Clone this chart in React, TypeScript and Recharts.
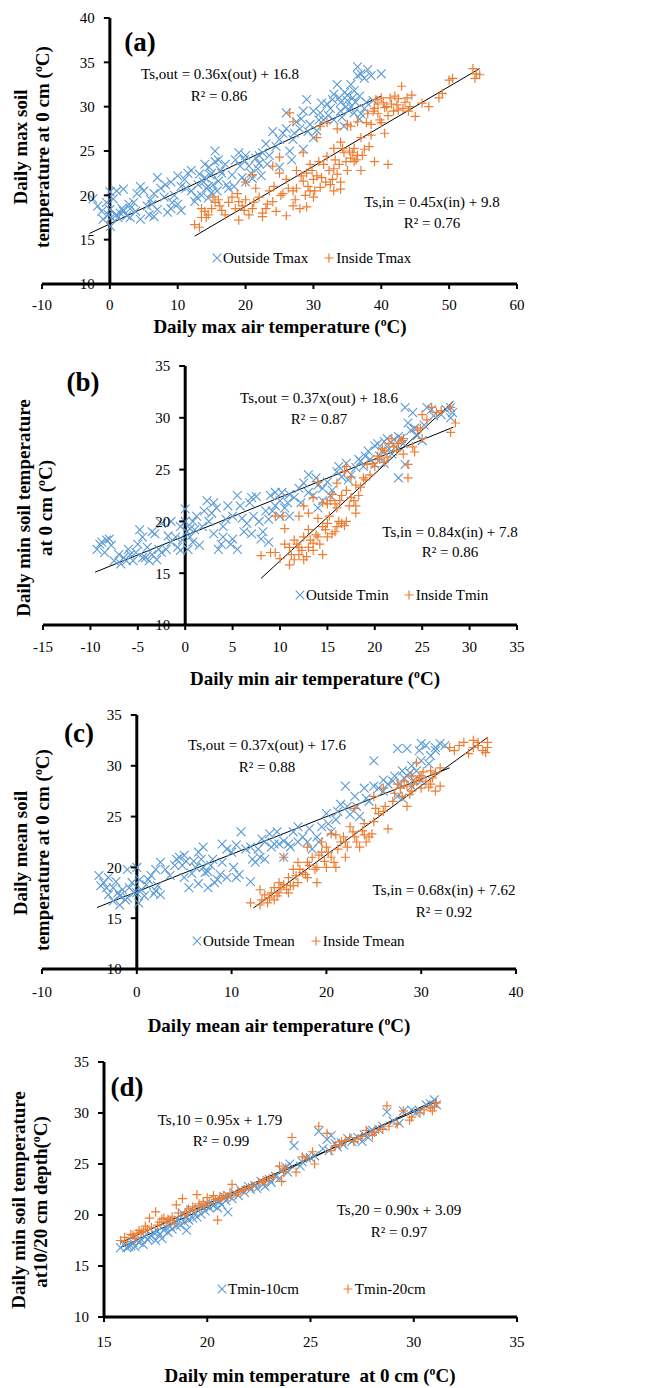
import React from 'react';
import { ScatterChart, Scatter, XAxis, YAxis, ReferenceLine, Legend } from 'recharts';

const BLUE = '#5B9BD5';
const ORANGE = '#ED7D31';
const FONT = '"Liberation Serif", "Times New Roman", serif';

type Pt = [number, number];

// (a) daily max: soil vs air
const outsideTmax: Pt[] = [
  [-2.5, 19.6], [-1.8, 18.8], [-1, 17.3], [-0.5, 19.2], [0, 20.4], [0, 18.4], [0.2, 17.5], [0.1, 16.5], [-1.2, 18.2],
  [1, 20.5], [1.5, 18], [2, 20.7], [2.5, 17.7], [3, 18.5], [3.5, 19.2], [4, 20.2], [4.5, 21], [4.5, 17.3], [5, 20.5],
  [5.5, 18.8], [2, 18.2], [1, 17.8], [3, 17.5], [6, 19.5], [6.5, 20.2], [6.5, 17.6], [7, 22], [7, 18.4], [7.5, 20.8],
  [8, 19.8], [8.5, 18.1], [9, 21.5], [9, 18.5], [9.5, 20], [10, 22.2], [10, 19], [10.5, 18.3], [10.5, 21], [11, 21.8],
  [11.5, 22.5], [12, 20.5], [12, 22.8], [12.5, 19.3], [13, 21.2], [13.5, 20], [14, 22], [14, 23.5], [14.5, 21],
  [14.5, 19.7], [15, 22.5], [15, 20.3], [15.5, 25], [15.5, 23.8], [16, 21.6], [16, 24], [16.5, 22.5], [17, 23.5],
  [17.5, 20.8], [18, 22.3], [18.5, 24], [19, 24.8], [19.5, 22], [20, 24.5], [20, 21.5], [20.5, 23.3], [21, 21.9],
  [21.5, 24.2], [22, 23.6], [22, 24.5], [23, 25.8], [23.5, 24.5], [24, 27.2], [25, 26.3], [25, 23.2], [26, 29.3],
  [26, 27.5], [26.5, 25], [27, 26.3], [27.5, 28.3], [28, 27.5], [28.5, 29.5], [28.5, 25.2], [29, 30.8], [29.5, 28],
  [30, 29.5], [30, 26.5], [30.5, 27.3], [31, 29.3], [31.5, 28.5], [32, 30.3], [32.5, 29.8], [33, 31.4], [33, 28.5],
  [33.5, 32.5], [34, 30.5], [34, 29.5], [34.5, 27.8], [35, 30.7], [35, 31.3], [35.5, 30], [35.5, 32.5], [36, 29.3],
  [36, 31.8], [36.5, 33.5], [36.5, 34.5], [37, 33.7], [37, 29.2], [37.5, 33.2], [38, 34.2], [38.5, 33.5], [40, 33.7],
  [37.5, 29.8], [36.8, 28.6], [13.8, 21.5], [14.2, 20.8], [14.8, 22.3], [15.2, 21.2], [15.8, 20.5], [14.6, 23.2],
  [13.2, 22.4], [16.3, 22.8], [17.2, 21.2], [18.3, 21], [19.2, 23.3], [19.8, 24], [20.8, 22.5], [21.8, 23], [22.3, 22.2],
  [24.5, 25.5], [25.5, 27], [26.8, 24], [27.2, 27], [28.2, 28.6], [29.2, 27.2], [30.8, 28.5], [31.2, 30.4], [32.2, 29],
  [32.8, 30.8], [33.8, 31], [34.2, 28.8], [34.8, 30], [35.2, 29.6], [35.8, 31], [36.2, 30.5], [36.8, 31.2], [34.6, 31.6],
  [1.2, 17.5], [1.8, 18.5], [2.8, 19], [3.8, 18.2], [5.8, 17.8], [6.2, 19], [8.2, 21.2], [9.2, 19.2], [11.2, 20.8],
  [12.8, 19.8], [0.5, 19.6], [-0.2, 17.8], [37.8, 30.5], [38.8, 30.7], [22.5, 24.8], [23.2, 23.5],
];
const insideTmax: Pt[] = [
  [12.5, 16.7], [13.2, 16.4], [13.5, 17.5], [13.5, 18.5], [14, 18.2], [14.5, 17.8], [15, 18.5], [15.5, 19.2], [16, 19.5],
  [16.5, 18.3], [17, 17.8], [17.5, 19.2], [18, 19.8], [18.5, 18.5], [19, 17.2], [19, 19.3], [19.5, 18.8], [20, 21.5],
  [20, 19.5], [20.5, 17.8], [21, 18.5], [21, 22.3], [21.5, 20.8], [22, 19.8], [22.5, 18], [22.5, 17.6], [23, 18.5],
  [23.5, 20.5], [24, 19.3], [24, 23.3], [24.5, 18.2], [25, 22.5], [25, 24.3], [25.5, 20.2], [26, 17.7], [26, 21.8],
  [26.5, 29.3], [27, 20.5], [27, 18.8], [27, 28.3], [27.5, 22.8], [27.5, 20.8], [28, 18.5], [28.5, 21.6], [28.5, 24.8],
  [29, 22.5], [29, 18.7], [29.5, 20.5], [29.5, 23.5], [30, 21.8], [30, 19.8], [30.5, 22.2], [30.5, 26.5], [31, 20.9],
  [31.5, 23.5], [32, 24.4], [32, 28.2], [32.5, 21.2], [33, 23], [33, 20.5], [33, 25.3], [33.5, 22.4], [34, 26],
  [34, 21.5], [34, 20.7], [34.5, 24.8], [35, 22.8], [35, 28], [35.5, 24.2], [36, 25.3], [36, 23.8], [36.5, 28.3],
  [36.5, 24.5], [37, 22.8], [37, 26.5], [37.5, 25.2], [38, 29.2], [38.5, 28], [39, 29.8], [39, 23.8], [39.5, 30.3],
  [40, 28.2], [40, 31], [40.5, 27], [41, 29], [41, 23.5], [41.5, 30.3], [42, 31.2], [42.5, 29.6], [43, 32.3],
  [43.5, 30.5], [44, 29.5], [44.5, 31.3], [45, 28.9], [46, 30.4], [49, 31.5], [50, 33], [50.5, 33.2], [53.5, 34.3],
  [54, 33.7], [54.5, 33.6], [42.5, 30.9], [39.5, 29.2], [38.5, 26.8], [40.5, 29.9], [14.2, 17.5], [15.2, 19.8],
  [16.2, 18.8], [18.8, 20.2], [19.8, 18.3], [21.2, 19.2], [23.2, 19], [24.2, 21], [25.2, 20], [26.3, 20.8], [27.3, 19.5],
  [28.2, 22.2], [28.8, 20], [29.2, 21], [29.8, 22.8], [30.2, 20.5], [30.8, 23.8], [31.2, 22], [31.8, 21.5], [32.3, 22.8],
  [32.8, 21.8], [33.2, 24], [33.8, 23.5], [34.3, 25.3], [34.8, 23.8], [35.3, 25], [35.8, 24.8], [36.3, 24], [37.2, 24.5],
  [38.2, 25.5], [38.8, 29.5], [39.2, 30.8], [39.8, 28.5], [40.3, 30.5], [40.8, 30], [41.3, 31], [41.8, 29.5],
  [42.3, 30.2], [43.2, 29.8], [43.8, 31], [44.2, 30], [47, 30], [48.5, 31], [53.8, 33.2], [31, 27.8], [33.5, 27.5],
  [35.5, 27.8], [37.8, 28.2],
];
const fitOutA: Pt[] = [[-3, 15.7], [40, 31.2]];
const fitInA: Pt[] = [[12.5, 15.4], [54.5, 34.3]];

// (b) daily min
const outsideTmin: Pt[] = [
  [-9.3, 17.3], [-8.8, 18], [-8.3, 18.2], [-7.8, 17.7], [-7.5, 16.2], [-8.5, 17], [-6.5, 16.5], [-6, 17.3], [-5.5, 16.2],
  [-5, 17.8], [-4.8, 19.2], [-4.5, 18.5], [-4.2, 16.5], [-4, 17.5], [-3.5, 16.8], [-3.2, 18.8], [-3, 16.3], [-2.8, 17.3],
  [-6.8, 15.9], [-5.8, 16.8], [-2.5, 19.8], [-2, 17.3], [-1.8, 18.6], [-1.5, 20], [-1, 18.5], [-0.8, 17.5], [-0.5, 19.5],
  [0, 21.2], [0, 20], [0.2, 19], [0.3, 17.3], [0.5, 18.5], [-0.3, 18.2], [0.8, 20], [1, 19.2], [1.5, 17.7], [2, 21],
  [2.3, 22], [2.5, 20], [3, 18.8], [3.3, 21.3], [3.5, 17.3], [4, 19.5], [4, 18.5], [4.5, 21.5], [5, 20.5], [5, 18.3],
  [5.5, 22.5], [5.5, 17.3], [4.8, 17.8], [6, 20.3], [6.5, 19.8], [6.8, 21.8], [7, 18.8], [7.5, 22.4], [7.2, 20.5],
  [8.2, 19], [8.5, 21], [8.8, 20.2], [9, 22.5], [9.5, 22.8], [9.5, 21.5], [10, 20.5], [10, 22], [10.5, 21.3], [8.8, 18],
  [11, 22.6], [11, 20.5], [12, 23.2], [12.5, 23.7], [13, 24.5], [13.5, 22.5], [14, 23.5], [14.5, 22], [15, 23.8],
  [15.5, 23], [16, 24.8], [16.5, 24.3], [17, 25.6], [17.5, 24.5], [14, 21.3], [18, 25.2], [18.5, 25.8], [19, 26.3],
  [19.5, 26], [20, 27.3], [20.5, 26.3], [21, 27.7], [21.5, 27], [22, 27.9], [22.5, 28.2], [22.5, 24.2], [23, 27.5],
  [23.2, 25.5], [23.2, 31], [23.5, 29.5], [24, 30.5], [24.5, 28.3], [25, 27.8], [25.5, 31], [26, 30.8], [28, 30],
  [28, 31], [28.2, 30.5], [27, 30.3], [21, 25.6], [20, 25.5], [-9, 17.8], [-8, 18.3], [-7, 16.8], [-6.2, 16.2],
  [-5.2, 17], [-4.5, 16.5], [-3.8, 16.2], [-3.5, 19], [-2.5, 17], [-1.5, 18], [-0.5, 17.2], [0.5, 19.3], [0.8, 18],
  [1.2, 20.5], [1.8, 19.5], [2.8, 20.8], [3, 21.8], [3.8, 17.8], [4.3, 20.2], [5.8, 21.5], [6.2, 19], [7, 22.3],
  [7.8, 20], [8, 18.3], [9.2, 21], [10.2, 22.8], [10.8, 21.8], [11.5, 22.3], [12.2, 21.8], [13, 22.8], [13.8, 24.2],
  [14.5, 23.2], [15.3, 22.5], [16.2, 25.3], [17.2, 24], [18.3, 26], [18.8, 25.3], [19.3, 26.8], [20.3, 27.5],
  [20.8, 26.8], [21.3, 28], [21.8, 26.5], [22.2, 27.2], [22.8, 28], [23.8, 28.8], [24.2, 29], [25.2, 29.3],
  [26.2, 30.2], [27.5, 30.8],
];
const insideTmin: Pt[] = [
  [8, 16.7], [9, 17], [9.5, 17], [10, 16.4], [9.5, 20.5], [10.3, 20.5], [10.5, 19.3], [10.5, 17.8], [11, 15.8], [11, 17.5],
  [11.5, 16.3], [11.5, 18.2], [12, 16.8], [12, 17.5], [12, 20.5], [12.5, 16.3], [12.5, 18.5], [12.5, 21.5], [13, 17.5],
  [13, 19.2], [13, 20.8], [13.5, 17.2], [13.5, 17.9], [13.5, 22.3], [14, 18.5], [14, 20.3], [14, 23.8], [14.5, 16.8],
  [14.5, 19.5], [14.5, 21.8], [15, 18.5], [15, 21.7], [15, 19.8], [15.5, 18.8], [15.5, 22.6], [16, 19.5], [16, 21.3],
  [16, 23.7], [16.5, 19.8], [16.5, 22.5], [17, 20], [17, 23], [17, 25.3], [17.5, 22.3], [17.5, 24.3], [18, 21.5],
  [18, 23.5], [18, 20.8], [18.5, 23.3], [19, 24], [19.5, 24.5], [20, 25.3], [20.5, 26], [21, 25.7], [21, 26.8],
  [21.5, 27.5], [22, 27.2], [22.5, 27.5], [23, 26.5], [23, 28], [23.5, 25.5], [23.5, 24.2], [24, 27.2], [24.5, 28.8],
  [25, 28], [25, 30.3], [26, 31], [27, 30.7], [28, 28.6], [28.5, 29.5], [28, 31], [26.5, 30.5], [11.2, 16.8],
  [11.8, 17.8], [12.3, 17.2], [12.8, 16.6], [13.2, 18.2], [13.8, 18.7], [14.2, 17.8], [14.8, 19.2], [15.2, 20.5],
  [15.8, 19], [16.2, 20], [16.8, 19.6], [15.3, 22], [15.8, 21.7], [16.3, 22], [16.8, 24.8], [17.3, 21.5], [17.8, 22],
  [18.3, 22.5], [18.8, 24.2], [19.2, 25.5], [19.8, 25.6], [20.3, 26.3], [20.8, 27], [21.3, 26.2], [21.8, 28],
  [22.3, 26.8], [22.8, 27.8], [24.2, 26.7], [24.8, 29], [25.5, 29.8],
];
const fitOutB: Pt[] = [[-9.5, 15.1], [28.3, 29.1]];
const fitInB: Pt[] = [[8, 14.5], [28.3, 31.6]];

// (c) daily mean
const outsideTmean: Pt[] = [
  [-4, 19.2], [-3.5, 18.5], [-3, 19], [-3, 17.3], [-2.5, 16.7], [-2.5, 18], [-2, 17.5], [-1.8, 16.3], [-1.5, 17.8],
  [-1, 19.8], [-1, 17], [-0.5, 18.5], [0, 20], [0, 17.5], [0.2, 16.5], [0.3, 18.8], [0.5, 17.8], [1, 18.3], [1.5, 19.2],
  [2, 17.7], [2, 19.8], [2.5, 20.5], [2.5, 17.3], [3, 19.8], [4, 20.2], [4.5, 21], [5, 19], [5, 21.2], [5.5, 18],
  [6, 20.6], [6.5, 21.5], [6.5, 18.4], [7, 22], [7, 20], [7.5, 19.6], [7.5, 18], [8, 20.8], [8.5, 18.8], [9, 22.3],
  [9, 20.5], [9.5, 19], [10, 21.5], [10.5, 22.2], [10.5, 19], [11, 23.5], [10.8, 19.3], [12, 22], [12.5, 20.5],
  [13, 21], [13.5, 22.5], [13.5, 20.8], [14, 23.3], [14.5, 22.3], [15, 22.3], [15.5, 21], [16, 22.3], [16.5, 23.5],
  [17, 24], [17, 22.5], [18, 22.5], [18.5, 21.8], [19, 23], [12, 18.6], [19.5, 24], [20, 25.3], [20.5, 23.5], [21, 24.7],
  [21.5, 26.2], [22, 28], [22.5, 25.2], [23, 27], [23.5, 25], [24, 27.8], [24.5, 26.5], [25, 28], [25, 30.5], [26, 27.5],
  [26, 28.6], [27, 28.5], [27.5, 31.7], [28, 29.5], [28.5, 31.7], [28.5, 29], [29, 30], [29, 28], [29.5, 29.5],
  [30, 32.2], [30, 30.5], [30.5, 32], [31, 31], [31.5, 31.5], [32, 32.2], [32.5, 32], [27.5, 27], [28, 26.8], [30, 28.5],
  [-3.8, 18.2], [-3.2, 18], [-2.2, 18.6], [-1.8, 17.2], [-1.2, 16.8], [-0.8, 18], [-0.3, 17.5], [0.8, 17.2],
  [1.2, 18.8], [1.8, 17.4], [2.2, 18.2], [3.5, 19.2], [4.2, 20.8], [4.8, 20.2], [5.2, 20.6], [5.8, 19.4], [6.2, 20],
  [6.8, 20.8], [7.2, 19.5], [7.8, 20.2], [8.2, 18.5], [8.8, 19.3], [9.5, 21.8], [10.2, 20], [11.5, 21.8], [12.2, 20.8],
  [12.8, 21.8], [13.2, 22.8], [14.2, 22], [14.8, 23.5], [15.5, 22.6], [16.2, 22], [17.5, 23], [18.2, 23.8], [19.2, 22.5],
  [20.2, 24.3], [21.2, 25.5], [22.2, 26], [23.2, 26], [24.2, 26.8], [25.5, 27.8], [26.5, 28.2], [27.2, 29], [27.8, 28.2],
  [28.2, 28.8], [28.8, 29.3], [29.2, 28.6], [29.8, 31.5], [30.8, 30.2], [31.5, 31.8],
];
const insideTmean: Pt[] = [
  [12, 16.5], [13, 16.3], [13, 17.8], [13.5, 17.3], [14, 17], [14.5, 18], [14.5, 16.8], [15, 17.5], [15, 18.5],
  [15.5, 18.3], [15.5, 21], [16, 19], [16, 17.5], [16.5, 19.8], [16.5, 18.2], [17, 20.5], [17, 18.5], [17.5, 19.5],
  [18, 20.5], [18, 19], [18, 22], [18.5, 21], [19, 20], [19, 18.5], [19.5, 21.5], [19.5, 22.5], [20, 22], [20, 20],
  [20.5, 21], [20.5, 23.3], [21, 23.2], [21, 20], [21.5, 22.5], [22, 22.5], [22, 21], [22.5, 24], [23, 23], [23, 25.8],
  [23.5, 22], [24, 24.3], [24, 23.2], [24.5, 23], [25, 24.5], [25, 27], [25.5, 25.3], [26, 25.5], [26, 27.8],
  [26.5, 23.8], [27, 26.5], [27.5, 28.2], [28, 27], [28.5, 28], [28.5, 26], [29, 29], [29, 27.5], [29.5, 30.3],
  [29.5, 28.5], [30, 29], [30, 27.8], [30.5, 28.5], [31, 29.5], [31, 28.2], [31.5, 27.5], [32, 29.8], [32, 28],
  [33, 31.8], [34, 32], [34.5, 32.3], [35, 31.2], [35.5, 31.8], [36, 32], [36.5, 31.5], [37, 31.8], [37, 32.3],
  [36, 32.3], [31.5, 29.3], [13.2, 16.8], [13.8, 16.5], [14.2, 17.5], [14.8, 17.2], [15.2, 18], [15.8, 17.8],
  [16.2, 18.2], [16.8, 19.2], [17.2, 19.8], [17.8, 19.3], [18.2, 20.2], [18.8, 19.8], [19.2, 21.2], [19.8, 20.6],
  [20.2, 21.5], [20.8, 20.5], [21.2, 21.8], [21.8, 23], [22.2, 22], [22.8, 23.5], [23.2, 22.5], [23.8, 23.6],
  [24.2, 22.5], [24.8, 23.3], [25.2, 25.8], [26.2, 26], [27.2, 27.3], [27.8, 27.8], [28.2, 28.5], [28.8, 27.2],
  [29.2, 28.2], [29.8, 28.8], [30.2, 29.4], [30.8, 27.9], [31.2, 28.8], [33.5, 31.5], [35.5, 32.5], [36.8, 31.3],
];
const fitOutC: Pt[] = [[-4.2, 16.05], [33, 29.8]];
const fitInC: Pt[] = [[12.3, 16], [37, 32.8]];

// (d) min soil at 10/20 cm vs 0 cm
const tmin10: Pt[] = [
  [15.8, 16.8], [16, 17.2], [16.2, 16.9], [16.4, 17.3], [16.6, 17.5], [16.8, 17.6], [17, 17.9], [17.2, 17.8], [17.4, 18.3],
  [17.6, 18.4], [17.8, 17.7], [18, 18.8], [18.2, 18.9], [18.4, 19.3], [18.6, 19.5], [18.8, 20.2], [19, 18.5], [19, 19.8],
  [19.2, 20.5], [19.4, 20.2], [19.6, 20.6], [19.8, 20.8], [20, 21], [20.2, 21.1], [20.4, 21.5], [20.6, 21.3],
  [20.8, 21.8], [21, 20.3], [21, 21.9], [21.3, 22.2], [21.6, 22.5], [22, 22.8], [22.3, 22.9], [22.6, 23.3], [23, 23.5],
  [23.3, 23.8], [23.6, 24.4], [23.8, 24.7], [24, 25], [24.2, 26.8], [24.5, 24.8], [24.8, 25.6], [25.2, 25.8],
  [25.4, 28.2], [25.6, 26.5], [25.8, 27.4], [26, 27.8], [26.2, 27], [26.5, 27.1], [26.8, 27.5], [27, 27.2], [27.3, 27.6],
  [27.6, 27.9], [28, 28.3], [28.3, 28.4], [28.7, 30.1], [29, 29.2], [29.5, 30.2], [29.9, 30.3], [30.3, 30.2],
  [30.8, 30.9], [31, 31.3], [31.1, 30.8], [17.5, 17.5], [18.5, 18.9], [19.5, 19.8], [20.5, 20.7], [16.5, 16.9],
  [22.8, 22.8], [27.8, 27.6], [16.1, 16.8], [16.3, 17], [16.7, 17.3], [16.9, 17.1], [17.1, 17.6], [17.3, 18],
  [17.7, 18.1], [17.9, 18.5], [18.1, 18.3], [18.3, 18.6], [18.7, 19], [18.9, 19.3], [19.1, 19.5], [19.3, 19.7],
  [19.7, 20.1], [19.9, 20.4], [20.1, 20.7], [20.3, 20.9], [20.7, 21], [20.9, 21.4], [21.2, 21.6], [21.5, 21.9],
  [21.8, 22.2], [22.1, 22.5], [22.4, 22.6], [22.7, 23], [23.1, 23.2], [23.5, 23.6], [23.9, 24.2], [24.6, 25.2],
  [25, 25.6], [25.9, 26.3], [26.3, 26.7], [26.6, 26.9], [27.1, 27.4], [27.5, 27.2], [27.9, 28.2], [28.5, 28.7],
  [29.3, 29], [30.1, 30], [30.6, 30.8],
];
const tmin20: Pt[] = [
  [15.8, 17.5], [16, 17.8], [16.3, 18.1], [16.5, 17.7], [16.8, 18.3], [17, 18.9], [17.2, 19.7], [17.5, 20.3], [17.6, 19],
  [17.8, 19.6], [18, 19.3], [18.3, 19.8], [18.5, 21], [18.8, 21.6], [19, 20.3], [19.3, 20.8], [19.5, 22], [19.8, 21.3],
  [20, 21.7], [20.3, 21.9], [20.5, 19.5], [20.7, 21.7], [21, 21.8], [21.2, 23], [21.5, 22.3], [22, 22.7], [22.5, 23.2],
  [23, 23.6], [23.5, 24.8], [23.6, 23.3], [23.8, 24.6], [24.1, 27.6], [24.3, 24.2], [24.6, 25.7], [25.1, 26.2],
  [25.2, 25], [25.4, 28.7], [25.8, 28], [26, 26.3], [26.2, 26.8], [26.5, 27.2], [26.9, 27.6], [27.3, 27.5], [27.7, 28.3],
  [28, 27.8], [28.3, 28.4], [28.7, 30.7], [28.8, 28.7], [29.2, 28.9], [29.5, 30.2], [29.9, 29.6], [30.3, 30],
  [30.8, 30.5], [31, 30.6], [31.1, 31], [19.7, 20.9], [21.8, 22.5], [22.8, 23.3], [16.7, 18.5], [18.2, 19.5],
  [16.1, 17.4], [16.4, 18], [16.6, 18.2], [16.9, 18.4], [17.1, 18.6], [17.3, 18.8], [17.7, 19.3], [17.9, 19.7],
  [18.1, 19.6], [18.4, 19.2], [18.6, 20.2], [18.9, 20], [19.1, 20.6], [19.4, 20.5], [19.6, 21.1], [19.9, 20.9],
  [20.1, 21.2], [20.4, 21.5], [20.6, 21.6], [20.8, 21.9], [21.1, 22.1], [21.4, 22], [21.7, 22.4], [22.2, 22.8],
  [22.7, 23.4], [23.2, 23.7], [23.7, 24.2], [24.8, 25.6], [26.4, 26.9], [26.7, 27.3], [27.1, 27.2], [27.5, 27.7],
  [28.1, 28.1], [28.5, 28.4], [29.8, 29.3], [30.5, 30.3], [30.9, 30.2],
];
const fit10: Pt[] = [[15.8, 16.8], [31.1, 31.3]];
const fit20: Pt[] = [[15.8, 17.3], [31.1, 31.1]];

const toPts = (a: Pt[]) => a.map(([x, y]) => ({ x, y }));

const XMark = (p: any) => {
  const { cx, cy } = p;
  if (cx == null || cy == null) return <g />;
  const r = 4.4;
  return (
    <path
      d={`M${cx - r},${cy - r}L${cx + r},${cy + r}M${cx - r},${cy + r}L${cx + r},${cy - r}`}
      stroke={BLUE}
      strokeWidth={1.1}
      fill="none"
    />
  );
};

const PlusMark = (p: any) => {
  const { cx, cy } = p;
  if (cx == null || cy == null) return <g />;
  const r = 4.6;
  return (
    <path
      d={`M${cx - r},${cy}L${cx + r},${cy}M${cx},${cy - r}L${cx},${cy + r}`}
      stroke={ORANGE}
      strokeWidth={1.2}
      fill="none"
    />
  );
};

const xTick = (p: any) => (
  <text x={p.x} y={p.y} dy="0.71em" textAnchor="middle" fontSize={15} fontFamily={FONT} fill="#000">
    {p.payload.value}
  </text>
);

const yTick = (axisX: number) => (p: any) => (
  <g>
    <line x1={axisX - 6} x2={axisX} y1={p.y} y2={p.y} stroke="#000" strokeWidth={2} />
    <text x={axisX - 15} y={p.y} dy="0.36em" textAnchor="end" fontSize={15} fontFamily={FONT} fill="#000">
      {p.payload.value}
    </text>
  </g>
);

const legendContent = (names: [string, string], gap: number) => () => (
  <div style={{ display: 'flex', fontFamily: FONT, fontSize: 15, lineHeight: '18px', whiteSpace: 'nowrap', color: '#000' }}>
    <span style={{ display: 'flex', alignItems: 'center', marginRight: gap }}>
      <svg width={10} height={10} style={{ marginRight: 1 }}>
        <path d="M0.7,0.7L9.3,9.3M0.7,9.3L9.3,0.7" stroke={BLUE} strokeWidth={1.1} />
      </svg>
      {names[0]}
    </span>
    <span style={{ display: 'flex', alignItems: 'center' }}>
      <svg width={10} height={10} style={{ marginRight: 2 }}>
        <path d="M0.5,5L9.5,5M5,0.5L5,9.5" stroke={ORANGE} strokeWidth={1.2} />
      </svg>
      {names[1]}
    </span>
  </div>
);

type PanelProps = {
  top: number;
  height: number;
  plot: { top: number; right: number; bottom: number; left: number };
  xDomain: [number, number];
  xTicks: number[];
  yDomain: [number, number];
  yTicks: number[];
  tickMargin: number;
  zeroAxis: boolean;
  blue: Pt[];
  orange: Pt[];
  fitBlue: Pt[];
  fitOrange: Pt[];
  names: [string, string];
  legendLeft: number;
  legendTop: number;
  legendGap: number;
};

const Y_W = 30;

const Panel = (p: PanelProps) => {
  const plotW = 649 - p.plot.left - p.plot.right;
  const axisX = p.zeroAxis
    ? p.plot.left + ((0 - p.xDomain[0]) / (p.xDomain[1] - p.xDomain[0])) * plotW
    : p.plot.left;
  const margin = { ...p.plot, left: p.plot.left - Y_W };
  return (
    <div style={{ position: 'absolute', left: 0, top: p.top }}>
      <ScatterChart width={649} height={p.height} margin={margin}>
        <XAxis
          type="number"
          dataKey="x"
          domain={p.xDomain}
          ticks={p.xTicks}
          interval={0}
          height={30}
          axisLine={{ stroke: '#000', strokeWidth: 3 }}
          tickLine={{ stroke: '#000', strokeWidth: 2 }}
          tickSize={5}
          tickMargin={p.tickMargin}
          tick={xTick}
        />
        <YAxis
          type="number"
          dataKey="y"
          domain={p.yDomain}
          ticks={p.yTicks}
          interval={0}
          width={Y_W}
          axisLine={p.zeroAxis ? false : { stroke: '#000', strokeWidth: 3 }}
          tickLine={false}
          tick={yTick(axisX)}
        />
        {p.zeroAxis && <ReferenceLine x={0} stroke="#000" strokeWidth={3} />}
        <Scatter name={p.names[0]} data={toPts(p.blue)} shape={XMark} isAnimationActive={false} />
        <Scatter name={p.names[1]} data={toPts(p.orange)} shape={PlusMark} isAnimationActive={false} />
        <ReferenceLine segment={toPts(p.fitBlue)} stroke="#000" strokeWidth={1} ifOverflow="visible" />
        <ReferenceLine segment={toPts(p.fitOrange)} stroke="#000" strokeWidth={1} ifOverflow="visible" />
        <Legend
          layout="horizontal"
          verticalAlign="middle"
          align="center"
          content={legendContent(p.names, p.legendGap)}
          wrapperStyle={{ left: p.legendLeft, top: p.legendTop, width: 'auto' }}
        />
      </ScatterChart>
    </div>
  );
};

const T = ({ x, y, size = 15, bold = false, rotate = false, children }: any) => (
  <div
    style={{
      position: 'absolute',
      left: x,
      top: y,
      transform: `translate(-50%, -50%)${rotate ? ' rotate(-90deg)' : ''}`,
      whiteSpace: 'nowrap',
      fontFamily: FONT,
      fontSize: size,
      fontWeight: bold ? 'bold' : 'normal',
      lineHeight: 1,
      color: '#000',
    }}
  >
    {children}
  </div>
);

const Deg = () => (
  <>
    (<span style={{ fontSize: '0.62em', verticalAlign: '0.55em' }}>o</span>C)
  </>
);

export default function App() {
  return (
    <div style={{ position: 'absolute', left: 0, top: 0, width: 649, height: 1388, background: '#fff', overflow: 'hidden' }}>
      <Panel
        top={0}
        height={345}
        plot={{ top: 18, right: 132, bottom: 31, left: 42 }}
        xDomain={[-10, 60]}
        xTicks={[-10, 0, 10, 20, 30, 40, 50, 60]}
        yDomain={[10, 40]}
        yTicks={[10, 15, 20, 25, 30, 35, 40]}
        tickMargin={10}
        zeroAxis
        blue={outsideTmax}
        orange={insideTmax}
        fitBlue={fitOutA}
        fitOrange={fitInA}
        names={['Outside Tmax', 'Inside Tmax']}
        legendLeft={212}
        legendTop={249}
        legendGap={16}
      />
      <Panel
        top={345}
        height={345}
        plot={{ top: 21, right: 132, bottom: 35, left: 43 }}
        xDomain={[-15, 35]}
        xTicks={[-15, -10, -5, 0, 5, 10, 15, 20, 25, 30, 35]}
        yDomain={[10, 35]}
        yTicks={[10, 15, 20, 25, 30, 35]}
        tickMargin={11}
        zeroAxis
        blue={outsideTmin}
        orange={insideTmin}
        fitBlue={fitOutB}
        fitOrange={fitInB}
        names={['Outside Tmin', 'Inside Tmin']}
        legendLeft={295}
        legendTop={241}
        legendGap={15}
      />
      <Panel
        top={690}
        height={345}
        plot={{ top: 25, right: 133, bottom: 36, left: 42 }}
        xDomain={[-10, 40]}
        xTicks={[-10, 0, 10, 20, 30, 40]}
        yDomain={[10, 35]}
        yTicks={[10, 15, 20, 25, 30, 35]}
        tickMargin={12}
        zeroAxis
        blue={outsideTmean}
        orange={insideTmean}
        fitBlue={fitOutC}
        fitOrange={fitInC}
        names={['Outside Tmean', 'Inside Tmean']}
        legendLeft={192}
        legendTop={242}
        legendGap={16}
      />
      <Panel
        top={1035}
        height={353}
        plot={{ top: 27, right: 132, bottom: 41, left: 104 }}
        xDomain={[15, 35]}
        xTicks={[15, 20, 25, 30, 35]}
        yDomain={[10, 35]}
        yTicks={[10, 15, 20, 25, 30, 35]}
        tickMargin={14}
        zeroAxis={false}
        blue={tmin10}
        orange={tmin20}
        fitBlue={fit10}
        fitOrange={fit20}
        names={['Tmin-10cm', 'Tmin-20cm']}
        legendLeft={217}
        legendTop={245}
        legendGap={44}
      />

      {/* panel letters */}
      <T x={140} y={42} size={27} bold>(a)</T>
      <T x={83} y={382} size={27} bold>(b)</T>
      <T x={79} y={733} size={27} bold>(c)</T>
      <T x={127} y={1087} size={27} bold>(d)</T>

      {/* equations */}
      <T x={220} y={74}>Ts,out = 0.36x(out) + 16.8</T>
      <T x={219} y={96}>R² = 0.86</T>
      <T x={432} y={202}>Ts,in = 0.45x(in) + 9.8</T>
      <T x={432} y={223}>R² = 0.76</T>

      <T x={319} y={398}>Ts,out = 0.37x(out) + 18.6</T>
      <T x={319} y={419}>R² = 0.87</T>
      <T x={450} y={532}>Ts,in = 0.84x(in) + 7.8</T>
      <T x={450} y={552}>R² = 0.86</T>

      <T x={267} y={745}>Ts,out = 0.37x(out) + 17.6</T>
      <T x={267} y={767}>R² = 0.88</T>
      <T x={444} y={890}>Ts,in = 0.68x(in) + 7.62</T>
      <T x={444} y={912}>R² = 0.92</T>

      <T x={220} y={1120}>Ts,10 = 0.95x + 1.79</T>
      <T x={221} y={1141}>R² = 0.99</T>
      <T x={399} y={1210}>Ts,20 = 0.90x + 3.09</T>
      <T x={399} y={1232}>R² = 0.97</T>

      {/* axis titles */}
      <T x={280} y={326} size={19} bold>Daily max air temperature <Deg /></T>
      <T x={20} y={147} size={19} bold rotate>Daily max soil</T>
      <T x={42} y={147} size={19} bold rotate>temperature at 0 cm <Deg /></T>

      <T x={315} y={678} size={19} bold>Daily min air temperature <Deg /></T>
      <T x={23} y={508} size={19} bold rotate>Daily min soil temperature</T>
      <T x={45} y={508} size={19} bold rotate>at 0 cm <Deg /></T>

      <T x={279} y={1025} size={19} bold>Daily mean air temperature <Deg /></T>
      <T x={20} y={853} size={19} bold rotate>Daily mean soil</T>
      <T x={42} y={850} size={19} bold rotate>temperature at 0 cm <Deg /></T>

      <T x={310} y={1375} size={19} bold>Daily min temperature&nbsp; at 0 cm <Deg /></T>
      <T x={18} y={1200} size={19} bold rotate>Daily min soil temperature</T>
      <T x={40} y={1202} size={19} bold rotate>at10/20 cm depth<Deg /></T>
    </div>
  );
}
